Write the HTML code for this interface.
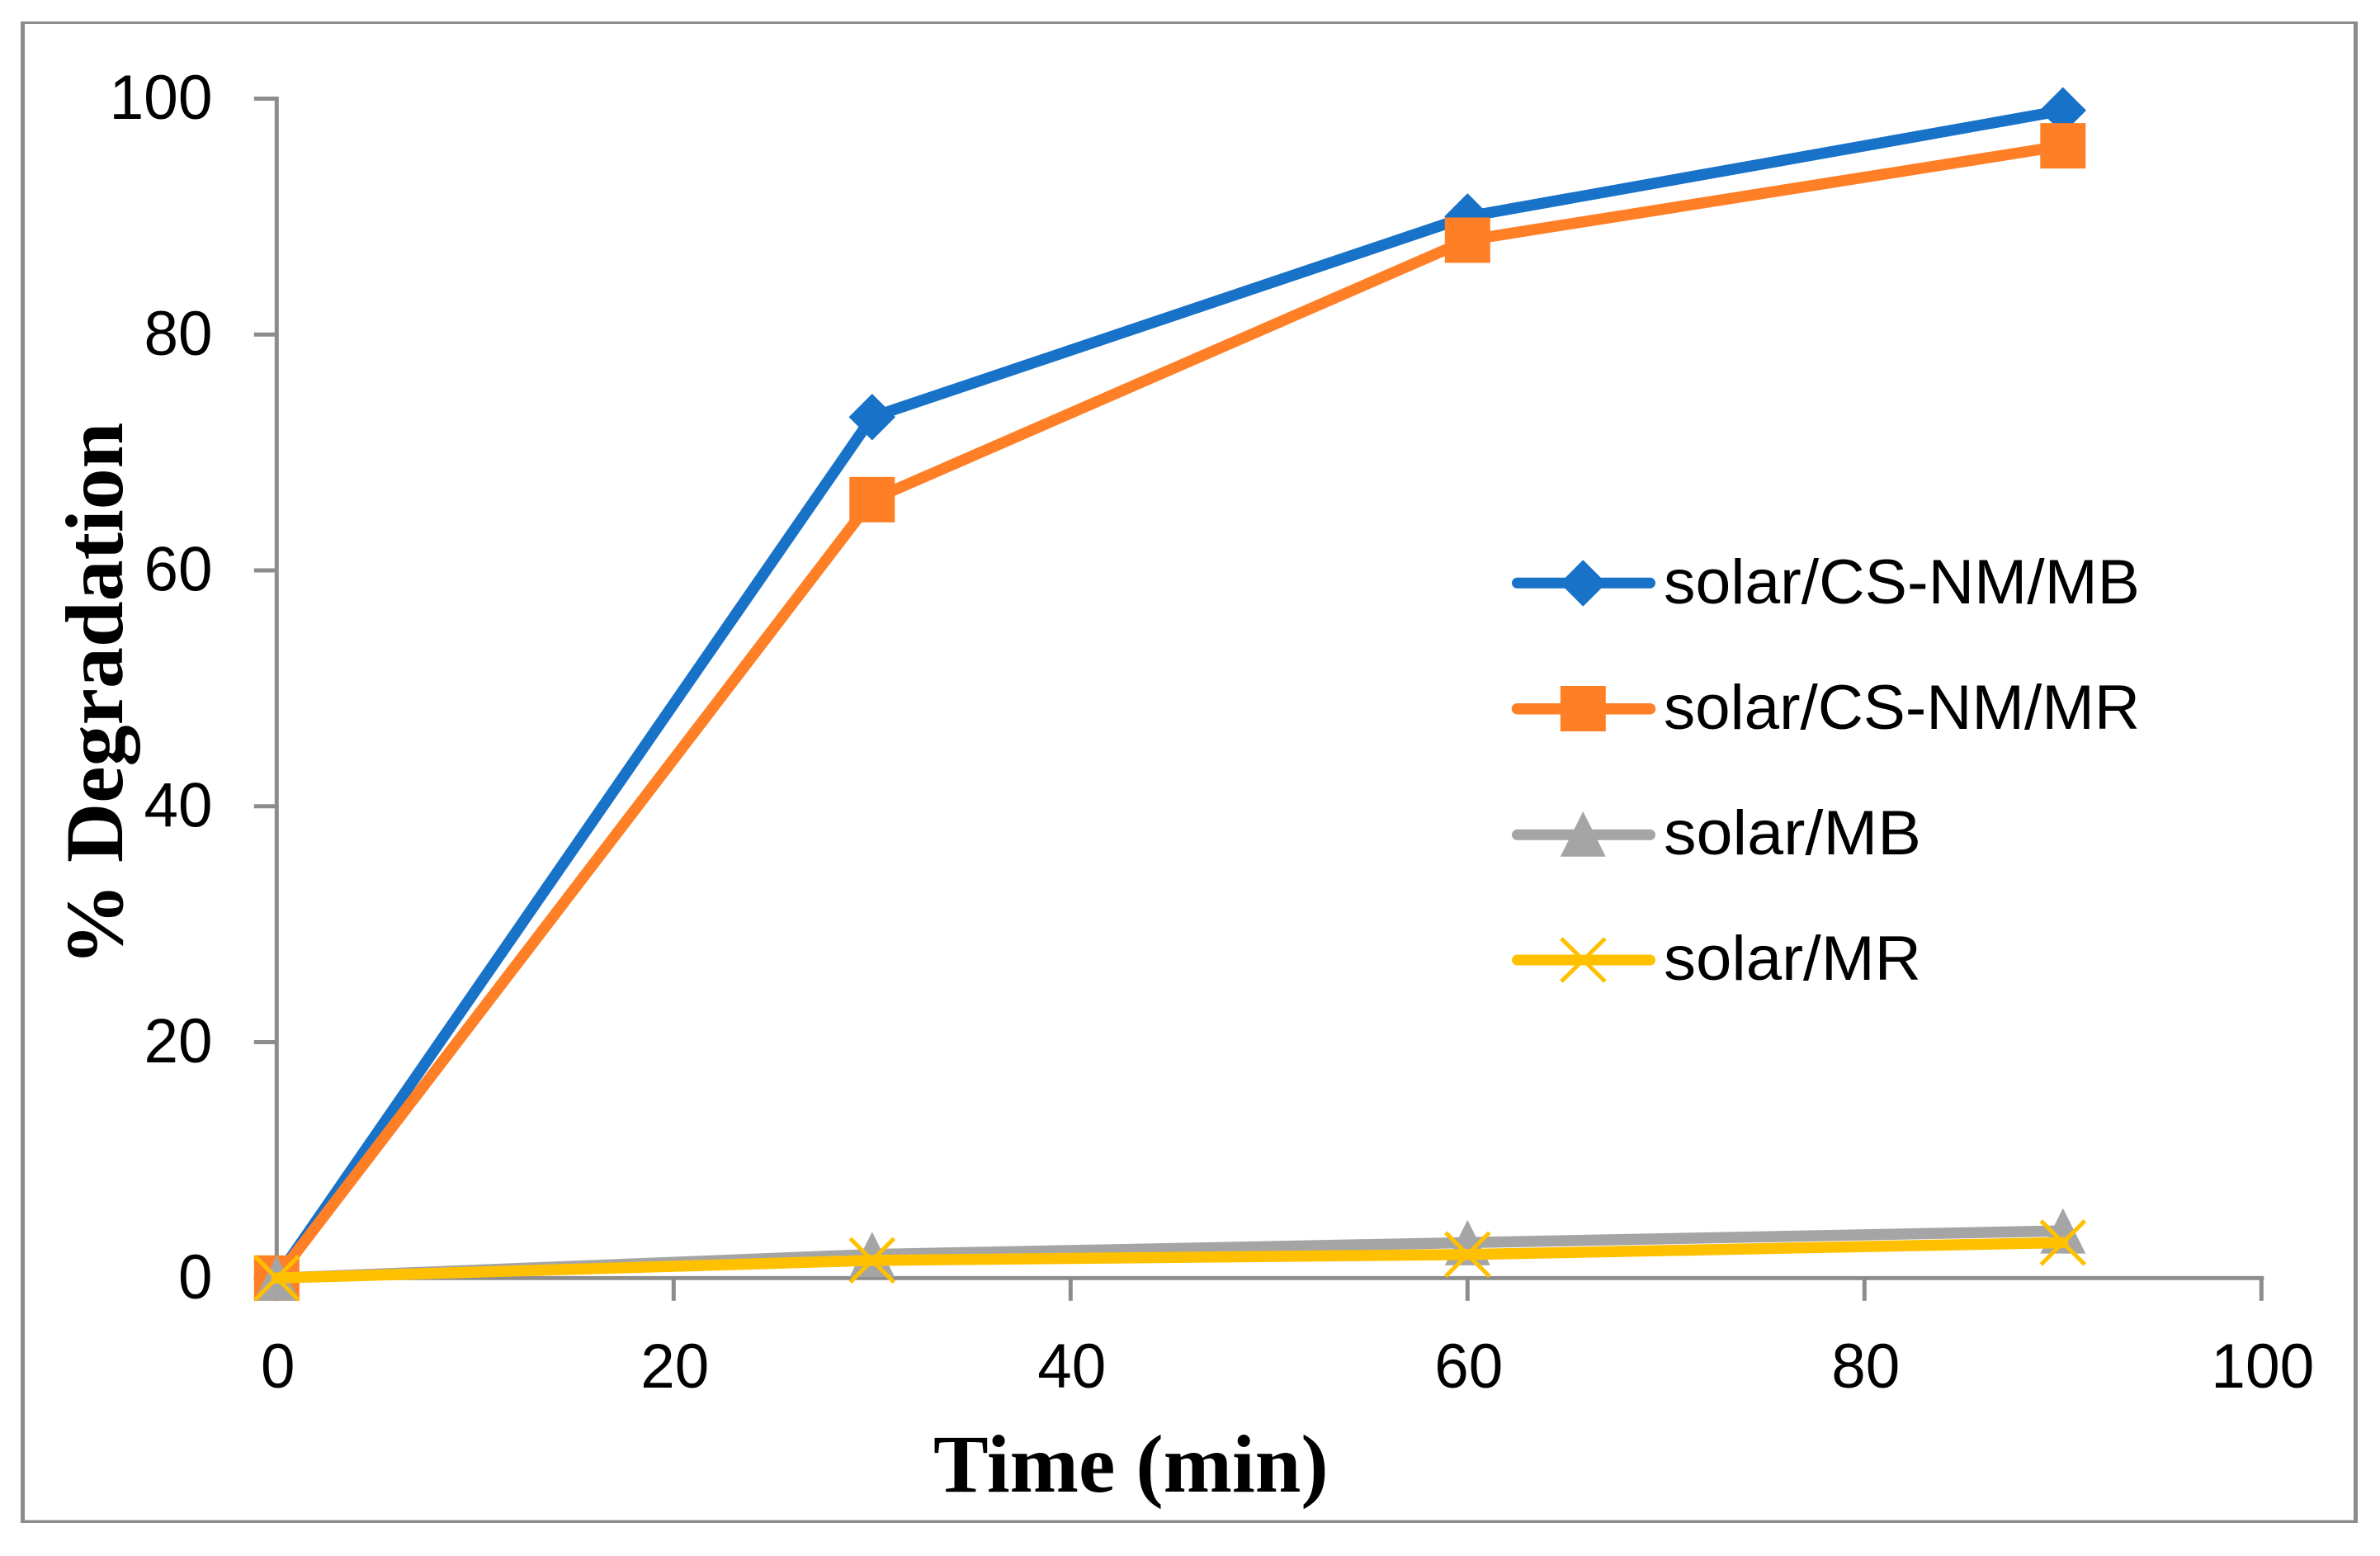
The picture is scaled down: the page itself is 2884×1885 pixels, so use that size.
<!DOCTYPE html>
<html lang="en">
<head>
<meta charset="utf-8">
<title>% Degradation vs Time</title>
<style>
  html, body { margin: 0; padding: 0; background: #ffffff; }
  svg { display: block; }
  .tick-text { font-family: "Liberation Sans", sans-serif; font-size: 76px; fill: #000; }
  .title-text { font-family: "Liberation Serif", serif; font-weight: bold; font-size: 100px; fill: #000; }
</style>
</head>
<body>
<svg id="chart" xmlns="http://www.w3.org/2000/svg" width="2884" height="1885" viewBox="0 0 2884 1885">
  <rect x="0" y="0" width="2884" height="1885" fill="#ffffff"/>
  <g fill="#8c8c8c">
    <rect x="25" y="26" width="5" height="1819"/>
    <rect x="25" y="26" width="2832" height="3"/>
    <rect x="2852" y="26" width="5" height="1819"/>
    <rect x="25" y="1841.5" width="2832" height="3.5"/>
  </g>
  <g id="axes"></g>
  <g id="series"></g>

  <text class="title-text" x="1131" y="1807">Time (min)</text>
  <text class="title-text" transform="translate(148 1170) rotate(-90)" x="0" y="0">% Degradation</text>

  <g>
    <g>
      <line x1="1838.500" y1="706.300" x2="1999.500" y2="706.300" stroke="#1772c8" stroke-width="13" stroke-linecap="round"/>
      <polygon points="1918.300,679 1945.800,706.500 1918.300,734 1890.800,706.500" fill="#1772c8" stroke="#1772c8" stroke-width="1" stroke-linejoin="round"/>
      <text class="tick-text" x="2016" y="731" textLength="577" lengthAdjust="spacingAndGlyphs">solar/CS-NM/MB</text>
    </g>
    <g>
      <line x1="1838.500" y1="858.700" x2="1999.500" y2="858.700" stroke="#ff7f27" stroke-width="13.500" stroke-linecap="round"/>
      <rect x="1890.800" y="831" width="55" height="55" fill="#ff7f27"/>
      <text class="tick-text" x="2016" y="883" textLength="577" lengthAdjust="spacingAndGlyphs">solar/CS-NM/MR</text>
    </g>
    <g>
      <line x1="1838.500" y1="1011.300" x2="1999.500" y2="1011.300" stroke="#a5a5a5" stroke-width="13" stroke-linecap="round"/>
      <polygon points="1918.300,983 1945.800,1037.700 1890.800,1037.700" fill="#a5a5a5"/>
      <text class="tick-text" x="2016" y="1035" textLength="312" lengthAdjust="spacingAndGlyphs">solar/MB</text>
    </g>
    <g>
      <line x1="1838.500" y1="1163" x2="1999.500" y2="1163" stroke="#ffc000" stroke-width="13" stroke-linecap="round"/>
      <path d="M1892 1137 L1945 1189 M1945 1137 L1892 1189" fill="none" stroke="#ffc000" stroke-width="5"/>
      <text class="tick-text" x="2016" y="1187" textLength="312" lengthAdjust="spacingAndGlyphs">solar/MR</text>
    </g>
  </g>
</svg>

<script>
const times = [0, 30, 60, 90];
const solarCsNmMb = [0, 73, 90, 99];
const solarCsNmMr = [0, 66, 88, 96];
const solarMb = [0, 2, 3, 4];
const solarMr = [0, 1.5, 2, 3];
const xTickLabels = [0, 20, 40, 60, 80, 100];
const yTickLabels = [0, 20, 40, 60, 80, 100];

const NS = 'http://www.w3.org/2000/svg';
const xAt = function (v) { return 335.3 + (v / 100) * 2405; };
const yAt = function (v) { return 1548.3 - (v / 100) * 1428.8; };
const labelWidth = function (s) { return s.length === 3 ? 125 : s.length * 41.5; };

function make(tag, attrs, parent) {
  const el = document.createElementNS(NS, tag);
  Object.keys(attrs).forEach(function (k) { el.setAttribute(k, attrs[k]); });
  parent.appendChild(el);
  return el;
}

/* ---------- axes ---------- */
const axes = document.getElementById('axes');
const axisColor = '#8c8c8c';

const xAxisLine = make('line', { x1: xAt(0) - 2.5, y1: yAt(0), x2: xAt(100) + 3, y2: yAt(0), stroke: axisColor, 'stroke-width': 4.8 }, axes);



const yAxisLine = make('line', { x1: xAt(0), y1: yAt(100) - 2.5, x2: xAt(0), y2: yAt(0) + 2, stroke: axisColor, 'stroke-width': 5 }, axes);



xTickLabels.forEach(function (t) {
  const tick = make('line', { x1: xAt(t), y1: yAt(0), x2: xAt(t), y2: yAt(0) + 27.5, stroke: axisColor, 'stroke-width': 5 }, axes);
  
  
  const s = String(t);
  const label = make('text', { x: xAt(t) + 1.5, y: 1681, 'text-anchor': 'middle', 'class': 'tick-text', textLength: labelWidth(s), lengthAdjust: 'spacingAndGlyphs' }, axes);
  label.textContent = s;
  
  
});

yTickLabels.forEach(function (t) {
  const tick = make('line', { x1: xAt(0) - 27.5, y1: yAt(t), x2: xAt(0), y2: yAt(t), stroke: axisColor, 'stroke-width': 5 }, axes);
  
  
  const s = String(t);
  const label = make('text', { x: 257.5, y: yAt(t) + 24.5, 'text-anchor': 'end', 'class': 'tick-text', textLength: labelWidth(s), lengthAdjust: 'spacingAndGlyphs' }, axes);
  label.textContent = s;
  
  
});

/* ---------- markers ---------- */
function drawMarker(kind, cx, cy, color, parent) {
  const r = 27.5;
  let m;
  if (kind === 'diamond') {
    m = make('polygon', { points: [cx, cy - r, cx + r, cy, cx, cy + r, cx - r, cy].join(' '), fill: color, stroke: color, 'stroke-width': 1, 'stroke-linejoin': 'round' }, parent);
  } else if (kind === 'square') {
    m = make('rect', { x: cx - r, y: cy - r, width: 2 * r, height: 2 * r, fill: color }, parent);
  } else if (kind === 'triangle') {
    m = make('polygon', { points: [cx, cy - r, cx + r, cy + r, cx - r, cy + r].join(' '), fill: color }, parent);
  } else {
    const a = 26.5;
    m = make('path', { d: 'M' + (cx - a) + ' ' + (cy - a) + ' L' + (cx + a) + ' ' + (cy + a) + ' M' + (cx + a) + ' ' + (cy - a) + ' L' + (cx - a) + ' ' + (cy + a), fill: 'none', stroke: color, 'stroke-width': 5 }, parent);
  }
  return m;
}

function drawSeries(name, values, color, kind) {
  const root = document.getElementById('series');
  const group = make('g', {}, root);
  
  
  const pts = values.map(function (v, i) { return xAt(times[i]) + ',' + yAt(v); }).join(' ');
  const line = make('polyline', { points: pts, fill: 'none', stroke: color, 'stroke-width': 13.5, 'stroke-linejoin': 'round', 'stroke-linecap': 'round' }, group);
  
  
  values.forEach(function (v, i) {
    const marker = drawMarker(kind, xAt(times[i]), yAt(v), color, group);
    
    
  });
}

drawSeries('solar-cs-nm-mb', solarCsNmMb, '#1772c8', 'diamond');
drawSeries('solar-cs-nm-mr', solarCsNmMr, '#ff7f27', 'square');
drawSeries('solar-mb', solarMb, '#a5a5a5', 'triangle');
drawSeries('solar-mr', solarMr, '#ffc000', 'cross');
</script>
</body>
</html>
